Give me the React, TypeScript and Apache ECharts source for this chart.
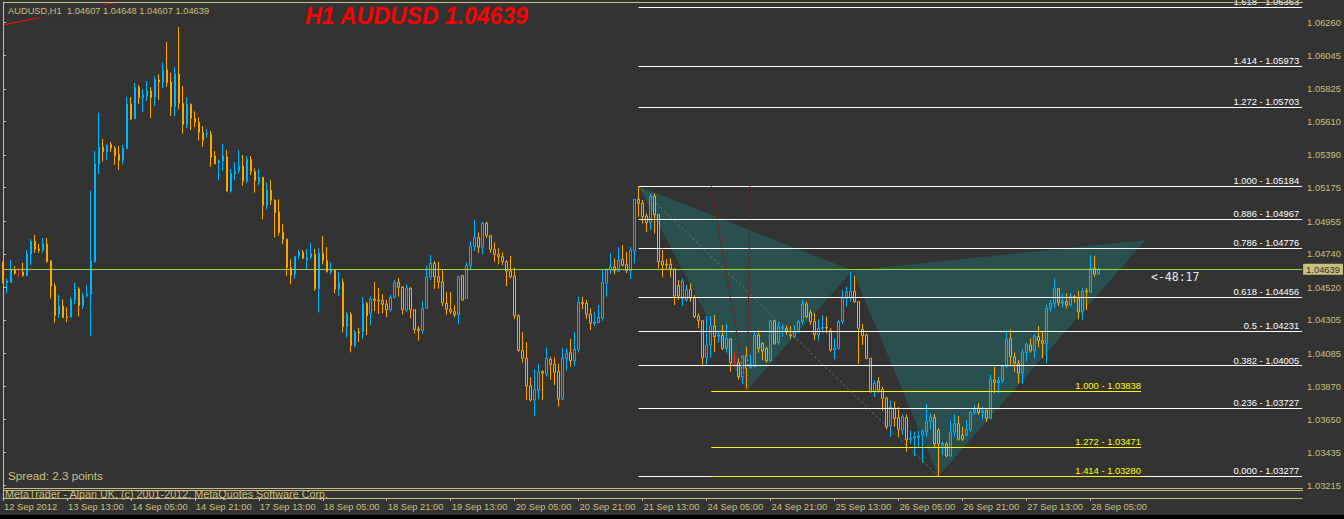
import React, { useEffect, useRef } from "react";
import * as echarts from "echarts";

const symbolName = "AUDUSD";
const timeframe = "H1";
const spreadText = "Spread: 2.3 points";
const countdownText = "<-48:17";
const copyrightText = "MetaTrader - Alpari UK, (c) 2001-2012, MetaQuotes Software Corp.";

const timeLabels = [
  "12 Sep 2012", "13 Sep 13:00", "14 Sep 05:00", "14 Sep 21:00", "17 Sep 13:00", "18 Sep 05:00",
  "18 Sep 21:00", "19 Sep 13:00", "20 Sep 05:00", "20 Sep 21:00", "21 Sep 13:00", "24 Sep 05:00",
  "24 Sep 21:00", "25 Sep 13:00", "26 Sep 05:00", "26 Sep 21:00", "27 Sep 13:00", "28 Sep 05:00",
];
const barsPerLabel = 16;
const slotCount = 326;

const priceTicks = [
  1.0626, 1.06045, 1.05825, 1.0561, 1.0539, 1.05175, 1.04955, 1.0474, 1.0452, 1.04305, 1.04085,
  1.0387, 1.0365, 1.03435, 1.03215,
];

const opens = [
  1.04563,1.04550,1.04550,1.04638,1.04620,1.04620,1.04596,1.04737,1.04822,1.04772,
  1.04763,1.04805,1.04692,1.04528,1.04342,1.04397,1.04327,1.04323,1.04441,1.04509,
  1.04399,1.04464,1.04473,1.04688,1.05331,1.05442,1.05411,1.05460,1.05433,1.05394,
  1.05355,1.05431,1.05725,1.05628,1.05835,1.05767,1.05780,1.05811,1.05771,1.05883,
  1.05870,1.05949,1.05870,1.05707,1.05922,1.05729,1.05591,1.05723,1.05631,1.05605,
  1.05539,1.05526,1.05526,1.05383,1.05335,1.05350,1.05377,1.05153,1.05267,1.05286,
  1.05317,1.05219,1.05361,1.05280,1.05214,1.05243,1.05059,1.05158,1.05092,1.05015,
  1.04881,1.04836,1.04649,1.04607,1.04726,1.04750,1.04697,1.04717,1.04737,1.04510,
  1.04743,1.04696,1.04618,1.04634,1.04509,1.04553,1.04261,1.04342,1.04137,1.04226,
  1.04228,1.04414,1.04348,1.04443,1.04436,1.04434,1.04408,1.04372,1.04454,1.04553,
  1.04520,1.04372,1.04513,1.04372,1.04245,1.04234,1.04381,1.04589,1.04677,1.04589,
  1.04556,1.04414,1.04375,1.04359,1.04340,1.04596,1.04447,1.04662,1.04789,1.04848,
  1.04783,1.04940,1.04859,1.04770,1.04737,1.04721,1.04688,1.04627,1.04594,1.04333,
  1.04105,1.04053,1.03872,1.03779,1.03840,1.03965,1.03955,1.04046,1.04013,1.03967,
  1.03784,1.04053,1.04090,1.04037,1.04112,1.04421,1.04414,1.04344,1.04283,1.04287,
  1.04316,1.04546,1.04634,1.04655,1.04623,1.04704,1.04671,1.04629,1.04758,1.05098,
  1.05072,1.04989,1.04944,1.05120,1.04999,1.04692,1.04671,1.04671,1.04640,1.04530,
  1.04447,1.04436,1.04507,1.04451,1.04331,1.04300,1.04059,1.04140,1.04265,1.04199,
  1.04204,1.04118,1.04180,1.04025,1.04024,1.03932,1.04068,1.03994,1.03998,1.04206,
  1.04151,1.04118,1.04037,1.04300,1.04155,1.04250,1.04250,1.04206,1.04195,1.04228,
  1.04294,1.04408,1.04353,1.04294,1.04206,1.04250,1.04256,1.04234,1.04107,1.04118,
  1.04294,1.04447,1.04449,1.04493,1.04425,1.04243,1.04206,1.04053,1.03838,1.03901,
  1.03849,1.03790,1.03608,1.03724,1.03664,1.03581,1.03664,1.03520,1.03527,1.03531,
  1.03548,1.03570,1.03636,1.03664,1.03581,1.03483,1.03490,1.03410,1.03567,1.03622,
  1.03548,1.03548,1.03585,1.03695,1.03726,1.03695,1.03708,1.03658,1.03910,1.03893,
  1.03906,1.04002,1.04180,1.04063,1.04020,1.03958,1.04090,1.04140,1.04102,1.04195,
  1.04169,1.04151,1.04381,1.04414,1.04513,1.04414,1.04425,1.04403,1.04458,1.04447,
  1.04359,1.04496,1.04489,1.04645,1.04607,
];

const closes = [
  1.04553,1.04561,1.04638,1.04612,1.04620,1.04598,1.04739,1.04822,1.04770,1.04762,
  1.04805,1.04688,1.04524,1.04335,1.04397,1.04320,1.04320,1.04441,1.04509,1.04399,
  1.04467,1.04475,1.04692,1.05331,1.05442,1.05411,1.05451,1.05435,1.05384,1.05355,
  1.05435,1.05725,1.05626,1.05835,1.05767,1.05784,1.05811,1.05767,1.05883,1.05870,
  1.05942,1.05865,1.05707,1.05922,1.05729,1.05591,1.05725,1.05631,1.05605,1.05539,
  1.05486,1.05532,1.05375,1.05331,1.05350,1.05383,1.05153,1.05269,1.05282,1.05317,
  1.05219,1.05361,1.05280,1.05221,1.05243,1.05059,1.05160,1.05092,1.05010,1.04881,
  1.04836,1.04649,1.04599,1.04724,1.04752,1.04710,1.04717,1.04743,1.04510,1.04743,
  1.04696,1.04622,1.04634,1.04509,1.04553,1.04260,1.04342,1.04137,1.04224,1.04219,
  1.04414,1.04333,1.04443,1.04434,1.04431,1.04408,1.04372,1.04454,1.04553,1.04520,
  1.04372,1.04513,1.04372,1.04243,1.04234,1.04381,1.04589,1.04677,1.04589,1.04556,
  1.04418,1.04375,1.04359,1.04340,1.04589,1.04436,1.04662,1.04787,1.04848,1.04783,
  1.04940,1.04859,1.04770,1.04737,1.04721,1.04688,1.04627,1.04589,1.04333,1.04105,
  1.04053,1.03872,1.03779,1.03849,1.03963,1.03955,1.04053,1.04013,1.03961,1.03784,
  1.04053,1.04086,1.04037,1.04112,1.04421,1.04412,1.04342,1.04283,1.04290,1.04323,
  1.04553,1.04634,1.04655,1.04629,1.04699,1.04666,1.04629,1.04763,1.05098,1.05072,
  1.04984,1.04944,1.05120,1.04995,1.04688,1.04666,1.04666,1.04640,1.04462,1.04462,
  1.04561,1.04507,1.04447,1.04327,1.04300,1.04059,1.04140,1.04265,1.04195,1.04206,
  1.04118,1.04184,1.04024,1.04025,1.03932,1.04068,1.03987,1.04013,1.04206,1.04118,
  1.04101,1.04037,1.04300,1.04151,1.04261,1.04256,1.04228,1.04202,1.04228,1.04294,
  1.04408,1.04327,1.04294,1.04206,1.04250,1.04256,1.04253,1.04107,1.04118,1.04294,
  1.04447,1.04491,1.04491,1.04425,1.04250,1.04201,1.04053,1.03833,1.03888,1.03844,
  1.03790,1.03603,1.03731,1.03658,1.03586,1.03669,1.03516,1.03527,1.03537,1.03542,
  1.03570,1.03636,1.03669,1.03490,1.03490,1.03494,1.03410,1.03567,1.03622,1.03520,
  1.03520,1.03585,1.03695,1.03721,1.03695,1.03708,1.03658,1.03915,1.03893,1.03906,
  1.04002,1.04180,1.04063,1.04020,1.03954,1.04090,1.04146,1.04102,1.04199,1.04169,
  1.04151,1.04381,1.04414,1.04513,1.04418,1.04425,1.04403,1.04458,1.04451,1.04359,
  1.04496,1.04489,1.04645,1.04607,1.04639,
];

const lows = [
  1.04546,1.04480,1.04550,1.04601,1.04589,1.04589,1.04596,1.04666,1.04747,1.04744,
  1.04747,1.04681,1.04447,1.04287,1.04316,1.04316,1.04290,1.04323,1.04408,1.04327,
  1.04377,1.04454,1.04199,1.04681,1.05265,1.05346,1.05357,1.05411,1.05324,1.05291,
  1.05331,1.05431,1.05620,1.05626,1.05725,1.05672,1.05745,1.05633,1.05712,1.05751,
  1.05830,1.05839,1.05646,1.05646,1.05690,1.05530,1.05565,1.05554,1.05572,1.05484,
  1.05444,1.05503,1.05313,1.05331,1.05225,1.05286,1.05149,1.05142,1.05225,1.05269,
  1.05188,1.05205,1.05258,1.05142,1.05192,1.04967,1.05033,1.05061,1.04848,1.04859,
  1.04805,1.04596,1.04539,1.04577,1.04704,1.04710,1.04640,1.04704,1.04496,1.04354,
  1.04671,1.04617,1.04605,1.04480,1.04464,1.04221,1.04191,1.04092,1.04124,1.04160,
  1.04180,1.04206,1.04272,1.04364,1.04344,1.04349,1.04323,1.04359,1.04445,1.04458,
  1.04342,1.04359,1.04316,1.04217,1.04169,1.04213,1.04381,1.04568,1.04510,1.04510,
  1.04397,1.04340,1.04344,1.04323,1.04279,1.04431,1.04447,1.04638,1.04757,1.04747,
  1.04737,1.04844,1.04747,1.04688,1.04671,1.04666,1.04528,1.04578,1.04311,1.04096,
  1.04024,1.03779,1.03768,1.03673,1.03784,1.03779,1.03932,1.03910,1.03877,1.03735,
  1.03779,1.03971,1.03998,1.04002,1.04090,1.04375,1.04311,1.04239,1.04265,1.04283,
  1.04300,1.04458,1.04607,1.04605,1.04623,1.04655,1.04612,1.04574,1.04677,1.04984,
  1.04940,1.04885,1.04896,1.04874,1.04645,1.04585,1.04634,1.04585,1.04403,1.04436,
  1.04397,1.04425,1.04425,1.04316,1.04250,1.03998,1.04002,1.04055,1.04096,1.04155,
  1.04107,1.04090,1.03965,1.03998,1.03910,1.03884,1.03838,1.03983,1.03994,1.04090,
  1.04042,1.04024,1.04031,1.04140,1.04140,1.04195,1.04206,1.04184,1.04184,1.04217,
  1.04278,1.04316,1.04272,1.04173,1.04169,1.04217,1.04217,1.04096,1.04046,1.04107,
  1.04278,1.04392,1.04425,1.04418,1.04016,1.04140,1.04046,1.03826,1.03800,1.03826,
  1.03708,1.03586,1.03537,1.03603,1.03537,1.03548,1.03439,1.03490,1.03410,1.03468,
  1.03366,1.03537,1.03586,1.03467,1.03277,1.03417,1.03402,1.03402,1.03537,1.03511,
  1.03509,1.03537,1.03570,1.03680,1.03680,1.03651,1.03636,1.03651,1.03826,1.03822,
  1.03888,1.03987,1.03998,1.03965,1.03888,1.03884,1.04033,1.04090,1.04053,1.04125,
  1.04053,1.04020,1.04361,1.04381,1.04397,1.04388,1.04381,1.04392,1.04418,1.04309,
  1.04305,1.04370,1.04484,1.04589,1.04607,
];

const highs = [
  1.04688,1.04578,1.04699,1.04660,1.04651,1.04681,1.04765,1.04836,1.04864,1.04805,
  1.04844,1.04844,1.04699,1.04546,1.04469,1.04441,1.04388,1.04454,1.04550,1.04520,
  1.04484,1.04535,1.05153,1.05416,1.05668,1.05495,1.05462,1.05475,1.05449,1.05449,
  1.05455,1.05771,1.05771,1.05865,1.05850,1.05824,1.05876,1.05837,1.05909,1.05920,
  1.05996,1.06133,1.05931,1.05968,1.06231,1.05843,1.05769,1.05729,1.05677,1.05638,
  1.05580,1.05559,1.05548,1.05416,1.05361,1.05462,1.05423,1.05298,1.05341,1.05423,
  1.05390,1.05383,1.05383,1.05302,1.05298,1.05243,1.05210,1.05225,1.05098,1.05098,
  1.04936,1.04840,1.04704,1.04724,1.04765,1.04765,1.04772,1.04811,1.04772,1.04776,
  1.04856,1.04785,1.04684,1.04634,1.04618,1.04578,1.04355,1.04355,1.04239,1.04252,
  1.04456,1.04425,1.04460,1.04555,1.04515,1.04474,1.04436,1.04471,1.04568,1.04581,
  1.04528,1.04539,1.04520,1.04372,1.04265,1.04430,1.04660,1.04732,1.04692,1.04686,
  1.04638,1.04487,1.04489,1.04401,1.04596,1.04601,1.04684,1.04824,1.04962,1.04880,
  1.04951,1.04951,1.04859,1.04815,1.04776,1.04750,1.04699,1.04726,1.04649,1.04342,
  1.04224,1.04158,1.03928,1.03981,1.04016,1.03976,1.04124,1.04063,1.04059,1.04016,
  1.04120,1.04116,1.04180,1.04224,1.04458,1.04458,1.04436,1.04381,1.04359,1.04403,
  1.04638,1.04645,1.04743,1.04710,1.04783,1.04798,1.04752,1.04783,1.05098,1.05184,
  1.05094,1.05006,1.05138,1.05138,1.04999,1.04765,1.04704,1.04710,1.04645,1.04568,
  1.04579,1.04535,1.04546,1.04469,1.04349,1.04300,1.04331,1.04331,1.04337,1.04234,
  1.04272,1.04278,1.04180,1.04090,1.04053,1.04074,1.04129,1.04079,1.04228,1.04239,
  1.04158,1.04129,1.04305,1.04305,1.04294,1.04278,1.04270,1.04265,1.04270,1.04305,
  1.04436,1.04425,1.04370,1.04349,1.04309,1.04337,1.04327,1.04250,1.04184,1.04305,
  1.04502,1.04524,1.04623,1.04594,1.04425,1.04278,1.04217,1.04053,1.03910,1.03928,
  1.03866,1.03800,1.03774,1.03768,1.03731,1.03686,1.03684,1.03576,1.03570,1.03576,
  1.03585,1.03753,1.03691,1.03686,1.03592,1.03504,1.03504,1.03642,1.03686,1.03673,
  1.03603,1.03647,1.03708,1.03746,1.03757,1.03735,1.03724,1.03943,1.03998,1.03932,
  1.04009,1.04239,1.04243,1.04090,1.04042,1.04112,1.04155,1.04184,1.04212,1.04265,
  1.04234,1.04403,1.04436,1.04579,1.04513,1.04480,1.04480,1.04484,1.04469,1.04496,
  1.04513,1.04513,1.04732,1.04726,1.04648,
];

// Fibonacci retracement X (1.05184) -> C (1.03277)
const fibRatios = ["0.000", "0.236", "0.382", "0.5", "0.618", "0.786", "0.886", "1.000", "1.272", "1.414", "1.618"];
const fibPrices = [1.03277, 1.03727, 1.04005, 1.04231, 1.04456, 1.04776, 1.04967, 1.05184, 1.05703, 1.05973, 1.06363];
const fibStartBar = 159;

// extension levels (yellow)
const extRatios = ["1.000", "1.272", "1.414"];
const extPrices = [1.03838, 1.03471, 1.0328];
const extBars = [177.2, 284.7];

// harmonic pattern X, A, B, C, D
const patternBars = [159, 186, 212.5, 234, 285.85];
const patternPrices = [1.05184, 1.03838, 1.0463, 1.03277, 1.04831];

// trend / cycle lines
const xcLineBars = [159, 234];
const xcLinePrices = [1.05184, 1.03277];
const redLine1Bars = [177.2, 186];
const redLine2Bars = [186.9, 186.2];
const redLinePrices = [1.05184, 1.03838];
const topRedBars = [0, 28.75];
const topRedPrices = [1.06245, 1.06396];

const yMin = 1.03134;
const yMax = 1.06396;

const BG = "#333333";
const FRAME = "#c8c07c";
const TXT = "#c8c07c";
const FONT = '"Liberation Sans", Arial, sans-serif';
const BULL = "#00b4ff";
const BEAR = "#ffa500";

export default function App() {
  const ref = useRef<HTMLDivElement>(null);

  useEffect(() => {
    if (!ref.current) return;
    const chart = echarts.init(ref.current, null, { renderer: "svg" });

    const cats = Array.from({ length: slotCount }, (_, i) => String(i));
    const candles = opens.map((o, i) => [o, closes[i], lows[i], highs[i]]);
    const last = opens.length - 1;
    const lastClose = closes[last];
    const labelEvery = (i: number) => i % barsPerLabel === 0 && i / barsPerLabel < timeLabels.length;

    const fibData = fibPrices.map((p, k) => [
      {
        coord: [fibStartBar, p],
        lineStyle: { color: "#ffffff", width: 1, type: "solid" },
        label: {
          show: true,
          position: "insideEndTop",
          formatter: `${fibRatios[k]} - ${p.toFixed(5)}`,
          color: "#ffffff",
          fontSize: 9.4,
          fontFamily: FONT,
          distance: [3, 1],
        },
      },
      { coord: [slotCount - 1, p] },
    ]);

    const extData = extPrices.map((p, k) => [
      {
        coord: [extBars[0], p],
        lineStyle: { color: "#ffff00", width: 1, type: "solid" },
        label: {
          show: true,
          position: "insideEndTop",
          formatter: `${extRatios[k]} - ${p.toFixed(5)}`,
          color: "#ffff00",
          fontSize: 9.4,
          fontFamily: FONT,
          distance: [0, 1],
        },
      },
      { coord: [extBars[1], p] },
    ]);

    const lineObj = (bars: number[], prices: number[], color: string, type: any) => [
      { coord: [bars[0], prices[0]], lineStyle: { color, width: 1, type }, label: { show: false } },
      { coord: [bars[1], prices[1]] },
    ];

    const priceLine = [
      {
        coord: [0, lastClose],
        lineStyle: { color: "#9ad83a", width: 1, type: "solid" },
        label: {
          show: true,
          position: "end",
          distance: 1,
          formatter: lastClose.toFixed(5),
          backgroundColor: FRAME,
          color: "#333333",
          padding: [1, 3, 1, 3],
          fontSize: 9.4,
          fontFamily: FONT,
        },
      },
      { coord: [slotCount - 1, lastClose] },
    ];

    const option: any = {
      animation: false,
      backgroundColor: BG,
      grid: { left: 3, right: 41, top: 2, bottom: 17, containLabel: false },
      xAxis: [
        {
          type: "category",
          data: cats,
          boundaryGap: false,
          axisLine: { show: true, lineStyle: { color: FRAME, width: 1 } },
          axisTick: { show: true, length: 3, interval: labelEvery, lineStyle: { color: FRAME } },
          axisLabel: {
            show: true,
            interval: labelEvery,
            formatter: (_v: string, i: number) => timeLabels[i / barsPerLabel] ?? "",
            align: "left",
            margin: 4,
            padding: [0, 0, 0, 1],
            color: TXT,
            fontSize: 9.4,
            fontFamily: FONT,
          },
          splitLine: { show: false },
        },
        { type: "value", min: 0, max: slotCount - 1, show: false },
      ],
      yAxis: {
        type: "value",
        position: "right",
        min: yMin,
        max: yMax,
        scale: true,
        axisLine: { show: true, lineStyle: { color: FRAME, width: 1 } },
        axisTick: { show: true, length: 3, customValues: priceTicks, lineStyle: { color: FRAME } },
        axisLabel: {
          show: true,
          customValues: priceTicks,
          formatter: (v: number) => v.toFixed(5),
          color: TXT,
          margin: 5,
          fontSize: 9.4,
          fontFamily: FONT,
        },
        splitLine: { show: false },
      },
      series: [
        {
          type: "custom",
          xAxisIndex: 1,
          yAxisIndex: 0,
          z: 1,
          silent: true,
          data: [[0], [1]],
          renderItem: (_p: any, api: any) => {
            const k = api.value(0);
            const idx = k === 0 ? [0, 1, 2] : [2, 3, 4];
            const pts = idx.map((j) => api.coord([patternBars[j], patternPrices[j]]));
            return { type: "polygon", shape: { points: pts }, style: { fill: "rgba(30,120,120,0.42)" } };
          },
          markLine: {
            silent: true,
            symbol: ["none", "none"],
            precision: 5,
            animation: false,
            data: [
              ...fibData,
              ...extData,
              lineObj(xcLineBars, xcLinePrices, "#7a7a44", [2, 3]),
              lineObj(redLine1Bars, redLinePrices, "#a00808", [3, 2]),
              lineObj(redLine2Bars, redLinePrices, "#a00808", [3, 2]),
              lineObj(topRedBars, topRedPrices, "#ff1010", "solid"),
              priceLine,
            ],
          },
        },
        {
          type: "candlestick",
          xAxisIndex: 0,
          yAxisIndex: 0,
          z: 2,
          barWidth: 2,
          data: candles,
          itemStyle: {
            color: "rgba(0,0,0,0)",
            color0: "rgba(0,0,0,0)",
            borderColor: BULL,
            borderColor0: BEAR,
            borderColorDoji: "#ff2020",
            borderWidth: 1,
          },
        },
      ],
      graphic: [
        { type: "line", z: 20, shape: { x1: 3, y1: 2.5, x2: 1303, y2: 2.5 }, style: { stroke: FRAME, lineWidth: 1 } },
        { type: "line", z: 20, shape: { x1: 3.5, y1: 2, x2: 3.5, y2: 498 }, style: { stroke: FRAME, lineWidth: 1 } },
        { type: "line", z: 20, shape: { x1: 3, y1: 488.5, x2: 1303, y2: 488.5 }, style: { stroke: FRAME, lineWidth: 1 } },
        { type: "line", z: 20, shape: { x1: 3, y1: 490.5, x2: 1303, y2: 490.5 }, style: { stroke: FRAME, lineWidth: 1 } },
        {
          type: "text",
          z: 10,
          x: 5,
          y: 494,
          style: { text: copyrightText, fill: TXT, font: `10.8px ${FONT}`, verticalAlign: "middle" },
        },
        {
          type: "text",
          z: 30,
          x: 6,
          y: 11,
          style: {
            text: `${symbolName},${timeframe}  ${opens[last].toFixed(5)} ${highs[last].toFixed(5)} ${lows[last].toFixed(5)} ${lastClose.toFixed(5)}`,
            fill: TXT,
            font: `9.3px ${FONT}`,
            verticalAlign: "middle",
            backgroundColor: BG,
            padding: [2, 2, 2, 2],
          },
        },
        {
          type: "text",
          z: 30,
          x: 305,
          y: 16,
          style: {
            text: `${timeframe} ${symbolName} ${lastClose.toFixed(5)}`,
            fill: "#ff0000",
            font: `italic bold 23px ${FONT}`,
            verticalAlign: "middle",
          },
        },
        {
          type: "text",
          z: 30,
          x: 8,
          y: 475.5,
          style: { text: spreadText, fill: TXT, font: `11.7px ${FONT}`, verticalAlign: "middle" },
        },
        {
          type: "text",
          z: 30,
          x: 1151,
          y: 277,
          style: { text: countdownText, fill: "#e8e8e8", font: '11.5px "DejaVu Sans Mono", monospace', verticalAlign: "middle" },
        },
      ],
    };

    chart.setOption(option);
    return () => chart.dispose();
  }, []);

  return (
    <div style={{ position: "fixed", left: 0, top: 0, width: 1344, height: 519, background: "#000000" }}>
      <div ref={ref} style={{ width: 1344, height: 515 }} />
    </div>
  );
}
